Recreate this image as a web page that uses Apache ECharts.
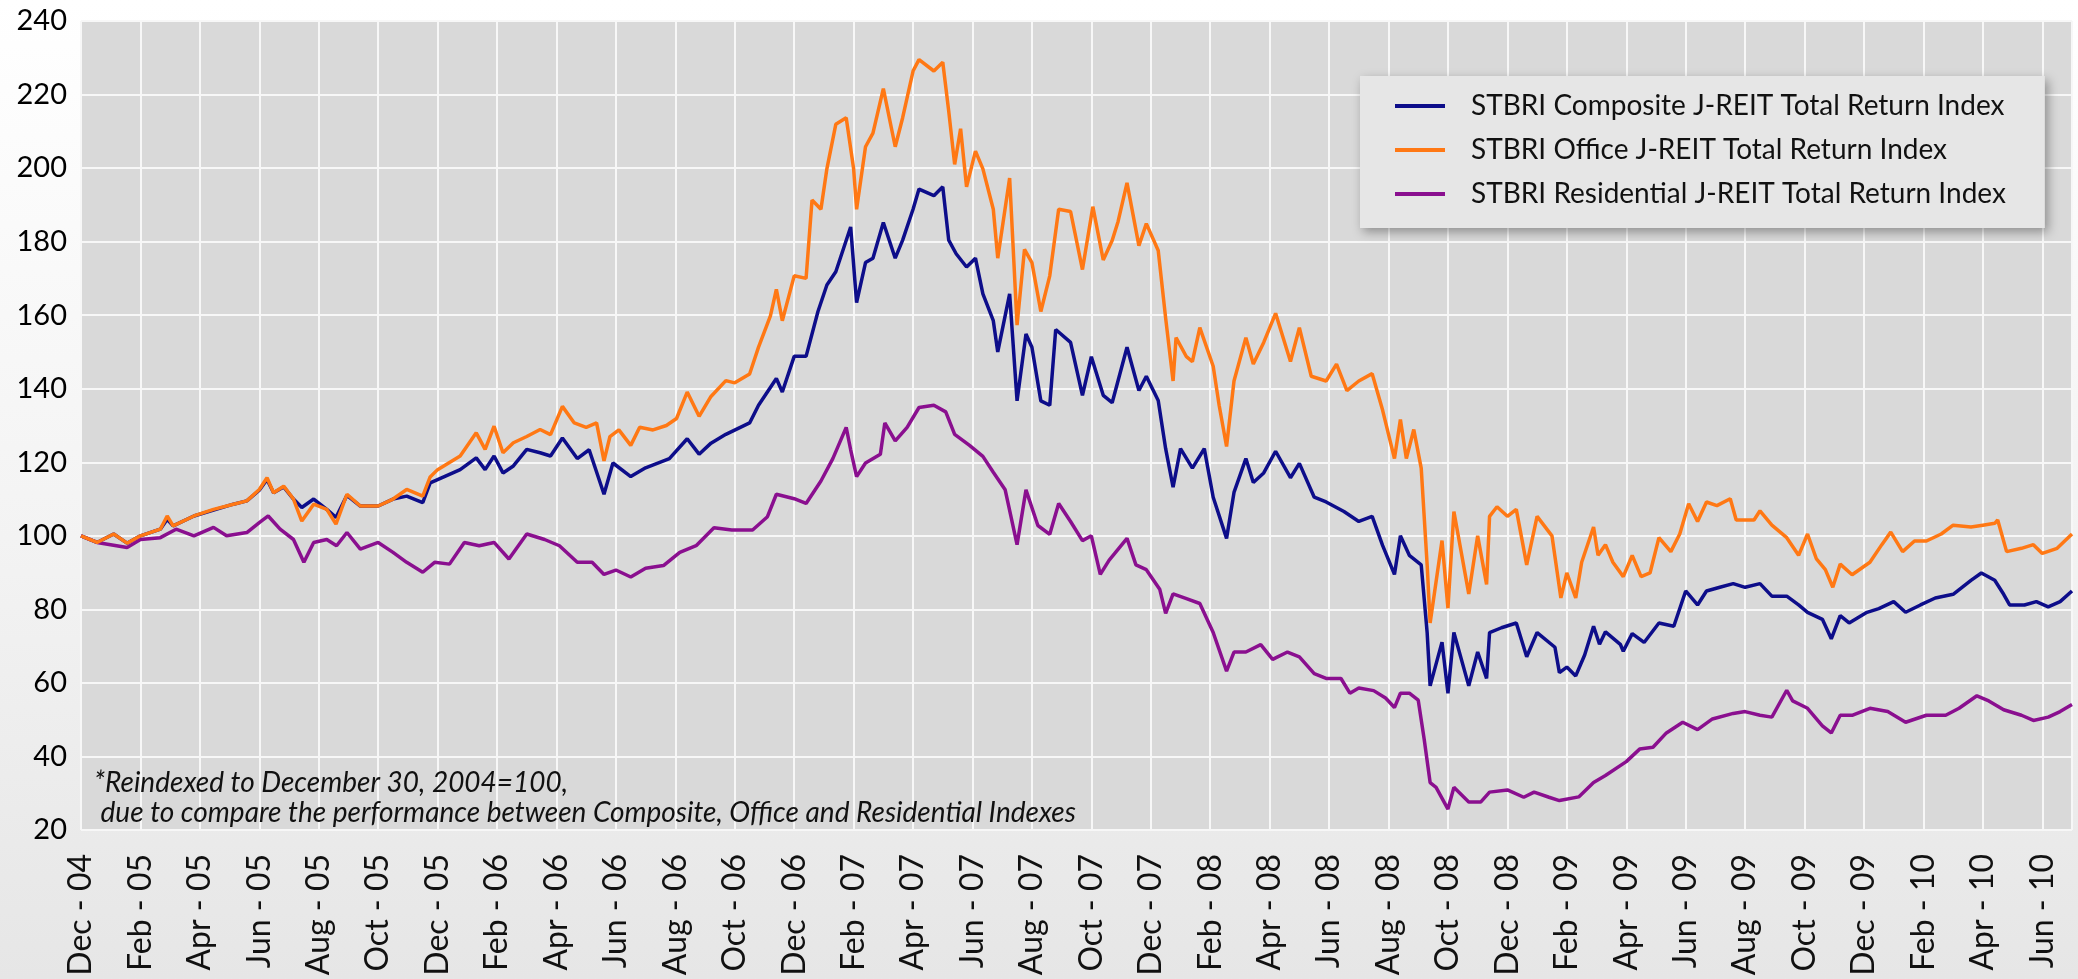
<!DOCTYPE html>
<html><head><meta charset="utf-8">
<script src="https://cdn.jsdelivr.net/npm/echarts/dist/echarts.min.js"></script>
<style>
html,body{margin:0;padding:0;width:2078px;height:979px;overflow:hidden;
background:linear-gradient(180deg,#ffffff 0%,#f3f3f3 55%,#e6e6e6 100%);}
#c{width:2078px;height:979px;}
</style></head><body><div id="c"></div>
<script>
// Each point: [months since 30 Dec 2004, index value]
const tickLabels = ['Dec - 04','Feb - 05','Apr - 05','Jun - 05','Aug - 05','Oct - 05','Dec - 05','Feb - 06','Apr - 06','Jun - 06','Aug - 06','Oct - 06','Dec - 06','Feb - 07','Apr - 07','Jun - 07','Aug - 07','Oct - 07','Dec - 07','Feb - 08','Apr - 08','Jun - 08','Aug - 08','Oct - 08','Dec - 08','Feb - 09','Apr - 09','Jun - 09','Aug - 09','Oct - 09','Dec - 09','Feb - 10','Apr - 10','Jun - 10'];

const composite = [[0,100],[0.54,98.2],[1.1,100.5],[1.55,98],[2,100],[2.67,101.8],[2.9,104.5],[3.1,102.7],[3.8,105.4],[4.46,107],[5.13,108.6],[5.58,109.5],[6,112.4],[6.26,115.3],[6.48,111.7],[6.82,113.3],[7.15,110],[7.43,107.7],[7.83,110],[8.27,107.2],[8.58,105],[8.95,111],[9.4,108.1],[10,108.1],[10.5,110],[10.96,110.8],[11.5,109],[11.75,114.4],[12,115.3],[12.76,118],[13.3,121.2],[13.6,118],[13.9,121.7],[14.2,117.1],[14.55,119],[15,123.5],[15.45,122.6],[15.8,121.7],[16.2,126.6],[16.7,121],[17.1,123.4],[17.6,111.3],[17.9,119.8],[18.5,116.1],[19,118.5],[19.8,121],[20.4,126.4],[20.8,122.2],[21.2,125.2],[21.7,127.6],[22.5,130.7],[22.8,135.5],[23.4,142.8],[23.6,139.1],[24,148.8],[24.4,148.8],[24.8,161],[25.1,168.2],[25.4,171.8],[25.9,184],[26.1,163.4],[26.4,174.3],[26.65,175.5],[27,185.2],[27.4,175.5],[27.65,180.4],[28,188.8],[28.2,194.3],[28.7,192.5],[29,194.9],[29.2,180.4],[29.45,176.7],[29.8,173.1],[30.1,175.5],[30.35,165.8],[30.7,158.5],[30.85,150],[31.25,165.8],[31.5,136.7],[31.8,154.9],[32,151.3],[32.3,136.7],[32.6,135.5],[32.8,156.1],[33.3,152.6],[33.7,138.2],[34,148.7],[34.4,138.2],[34.7,136.2],[35.2,151.3],[35.6,139.5],[35.85,143.4],[36.25,136.8],[36.5,123.7],[36.75,113.2],[37,123.7],[37.4,118.4],[37.8,123.7],[38.1,110.5],[38.55,99.3],[38.8,111.8],[39.2,121],[39.45,114.5],[39.8,117.1],[40.2,123],[40.7,115.8],[41,119.7],[41.5,110.5],[41.9,109.2],[42.5,106.6],[43,103.9],[43.45,105.3],[43.8,97.4],[44.2,89.5],[44.4,100],[44.7,94.7],[45.1,92.1],[45.3,73.7],[45.4,59.2],[45.8,71.1],[46,57.2],[46.2,73.7],[46.7,59.2],[47,68.4],[47.3,61.2],[47.4,73.7],[47.8,75],[48.3,76.3],[48.65,67.1],[49,73.7],[49.6,69.7],[49.75,62.8],[50,64.3],[50.3,61.9],[50.6,67.6],[50.9,75.4],[51.1,70.5],[51.3,73.9],[51.8,70.5],[51.9,68.6],[52.2,73.4],[52.6,71],[53.1,76.3],[53.6,75.4],[54,85],[54.4,81.2],[54.7,85],[55.15,86],[55.6,87],[56,86],[56.5,87],[56.9,83.6],[57.4,83.6],[57.8,81.2],[58.1,79.2],[58.6,77.3],[58.9,72],[59.2,78.3],[59.5,76.3],[60.1,79.2],[60.5,80.2],[61,82.1],[61.4,79.2],[61.9,81.2],[62.4,83.1],[63,84.1],[63.6,87.9],[63.95,89.9],[64.4,87.9],[64.7,84.1],[64.9,81.2],[65.4,81.2],[65.8,82.1],[66.2,80.7],[66.6,82.1],[67,85]];

const office = [[0,100],[0.54,98.2],[1.1,100.5],[1.55,98],[2,100],[2.67,101.8],[2.9,105.4],[3.1,102.7],[3.8,105.4],[4.46,107.2],[5.13,108.6],[5.58,109.5],[6,112.6],[6.26,115.8],[6.48,111.7],[6.82,113.5],[7.15,110],[7.43,104],[7.83,108.6],[8.27,107.2],[8.58,103.2],[8.95,111.3],[9.4,108.1],[10,108.1],[10.5,110],[10.96,112.6],[11.5,110.8],[11.75,116],[12,118],[12.76,121.7],[13.3,128],[13.6,123.5],[13.9,129.8],[14.2,122.6],[14.55,125.3],[15,127],[15.45,128.9],[15.8,127.5],[16.2,135.2],[16.6,130.7],[17,129.5],[17.35,130.7],[17.6,120.4],[17.8,127],[18.1,128.8],[18.5,124.6],[18.8,129.5],[19.25,128.8],[19.7,130],[20.04,131.9],[20.4,139.1],[20.8,132.5],[21.2,137.9],[21.7,142.2],[22,141.6],[22.5,144],[22.8,151.3],[23.2,159.8],[23.4,167],[23.6,158.5],[24,170.7],[24.4,170],[24.6,191.3],[24.9,188.8],[25.1,199.8],[25.4,211.9],[25.75,213.7],[26,199.8],[26.1,188.8],[26.4,205.8],[26.65,209.5],[27,221.6],[27.4,205.8],[27.65,213.7],[28,226.4],[28.2,229.5],[28.7,226.4],[29,228.8],[29.2,215.5],[29.4,201],[29.6,210.7],[29.8,194.9],[30.1,204.6],[30.35,199.8],[30.7,188.8],[30.85,175.5],[31.25,197.3],[31.5,157.3],[31.75,177.9],[32,174.3],[32.3,161],[32.6,170.7],[32.9,188.8],[33.3,188.2],[33.7,172.4],[34.05,189.5],[34.4,175],[34.7,180.3],[34.9,185.5],[35.2,196],[35.6,178.9],[35.85,184.9],[36.25,177.6],[36.5,159.2],[36.75,142.1],[36.85,153.9],[37.2,148.7],[37.4,147.4],[37.65,156.6],[38.1,146.1],[38.3,135.5],[38.55,124.3],[38.8,142.1],[39.2,153.9],[39.45,146.7],[39.8,152.6],[40.2,160.5],[40.7,147.4],[41,156.6],[41.4,143.4],[41.9,142.1],[42.25,146.7],[42.6,139.5],[43,142.1],[43.45,144.1],[43.8,134.2],[44.2,121],[44.4,131.6],[44.6,121],[44.85,128.9],[45.1,118.4],[45.3,92.1],[45.4,76.3],[45.8,98.7],[46,80.3],[46.2,106.6],[46.7,84.2],[47,100],[47.3,86.8],[47.4,105.3],[47.65,107.9],[48,105.3],[48.3,107.2],[48.65,92.1],[49,105.3],[49.5,100],[49.8,83.1],[50,89.9],[50.3,83.1],[50.5,92.8],[50.9,102.4],[51.05,94.7],[51.3,97.6],[51.55,92.8],[51.9,88.9],[52.2,94.7],[52.5,88.9],[52.8,89.9],[53.1,99.5],[53.5,95.7],[53.8,100.5],[54.1,108.7],[54.4,103.9],[54.7,109.2],[55.05,108.2],[55.5,110.1],[55.7,104.3],[56.3,104.3],[56.5,106.8],[56.9,102.9],[57.4,99.5],[57.8,94.7],[58.1,100.5],[58.4,93.7],[58.7,90.8],[58.95,86],[59.2,92.3],[59.6,89.4],[60.2,92.8],[60.6,97.6],[60.9,101],[61.3,95.7],[61.7,98.6],[62.1,98.6],[62.6,100.5],[63,102.9],[63.6,102.4],[64,102.9],[64.4,103.4],[64.5,104.3],[64.8,95.7],[65.3,96.6],[65.7,97.6],[66,95.2],[66.5,96.6],[67,100.5]];

const residential = [[0,100],[0.54,98.2],[1.55,96.8],[2,99],[2.67,99.5],[3.2,101.8],[3.8,100],[4.46,102.3],[4.9,100],[5.58,100.9],[6,103.6],[6.3,105.4],[6.7,101.8],[7.15,99],[7.5,92.8],[7.83,98.2],[8.27,99],[8.6,97.3],[8.95,100.9],[9.4,96.4],[10,98.2],[10.5,95.5],[10.96,92.8],[11.5,90.1],[11.9,92.8],[12.4,92.3],[12.9,98.2],[13.4,97.3],[13.9,98.2],[14.4,93.7],[15,100.5],[15.6,99],[16.1,97.3],[16.7,92.8],[17.2,92.8],[17.6,89.5],[18,90.7],[18.5,88.8],[19,91.2],[19.6,91.9],[20.15,95.5],[20.7,97.3],[21.3,102.2],[21.9,101.6],[22.6,101.6],[23.1,105.2],[23.4,111.3],[24,110.1],[24.4,108.8],[24.9,114.9],[25.3,121],[25.75,129.5],[25.9,123.4],[26.1,116.1],[26.4,119.8],[26.9,122.2],[27.05,130.7],[27.4,125.8],[27.8,129.5],[28.2,134.9],[28.7,135.5],[29.1,133.7],[29.4,127.6],[29.9,124.6],[30.35,121.6],[30.7,117.3],[31.1,112.5],[31.5,97.6],[31.8,112.5],[32.2,102.8],[32.6,100.4],[32.9,108.8],[33.3,103.9],[33.7,98.7],[34,100],[34.3,89.5],[34.6,93.4],[35.2,99.3],[35.5,92.1],[35.85,90.8],[36.3,85.5],[36.5,78.9],[36.75,84.2],[37.2,82.9],[37.65,81.6],[38.1,73.7],[38.55,63.2],[38.8,68.4],[39.2,68.4],[39.7,70.4],[40.1,66.4],[40.6,68.4],[41,67.1],[41.5,62.5],[41.9,61.2],[42.4,61.2],[42.7,57.2],[43,58.6],[43.5,57.9],[43.9,55.9],[44.2,53.3],[44.4,57.2],[44.7,57.2],[45,55.3],[45.2,44.7],[45.4,32.9],[45.6,31.6],[46,25.7],[46.2,31.6],[46.7,27.6],[47.1,27.6],[47.4,30.3],[48,30.9],[48.55,28.9],[48.9,30.3],[49.4,28.9],[49.75,28],[50.4,29],[50.9,32.9],[51.3,34.8],[52,38.6],[52.45,42],[52.9,42.5],[53.35,46.4],[53.9,49.3],[54.4,47.3],[54.9,50.2],[55.6,51.7],[56,52.2],[56.5,51.2],[56.9,50.7],[57.4,58],[57.6,55.1],[58.1,53.1],[58.6,48.3],[58.9,46.4],[59.2,51.2],[59.6,51.2],[60.2,53.1],[60.8,52.2],[61.4,49.3],[62.1,51.2],[62.75,51.2],[63.2,53.1],[63.8,56.5],[64.2,55.1],[64.7,52.7],[65.3,51.2],[65.7,49.8],[66.2,50.7],[66.6,52.2],[67,54.1]];

const seriesNames = ['STBRI Composite J-REIT Total Return Index','STBRI Office J-REIT Total Return Index','STBRI Residential J-REIT Total Return Index'];
const noteLines = ['*Reindexed to December 30, 2004=100,',' due to compare the performance between Composite, Office and Residential Indexes'];

const FONT = 'Lato, "Noto Sans", sans-serif';

const chart = echarts.init(document.getElementById('c'), null, {renderer: 'canvas'});
chart.setOption({
  animation: false,
  backgroundColor: 'transparent',
  color: ['#0d0d8a', '#ff7814', '#8a0f8f'],
  grid: {left: 81, right: 6, top: 21, bottom: 149, show: true, backgroundColor: '#d9d9d9', borderWidth: 0,
         containLabel: false, outerBoundsMode: 'none'},
  xAxis: {
    type: 'value', min: 0, max: 67, interval: 2,
    axisLine: {show: false}, axisTick: {show: false},
    splitLine: {show: true, lineStyle: {color: '#f7f7f7', width: 2}},
    axisLabel: {
      rotate: 90, margin: 24, fontSize: 32, color: '#111', fontFamily: FONT,
      showMaxLabel: false,
      formatter: v => { const k = Math.round(v / 2); return (Math.abs(v - 2 * k) < 1e-6 && tickLabels[k]) ? tickLabels[k] : ''; }
    }
  },
  yAxis: {
    type: 'value', min: 20, max: 240, interval: 20,
    axisLine: {show: false}, axisTick: {show: false},
    splitLine: {show: true, lineStyle: {color: '#f7f7f7', width: 2}},
    axisLabel: {margin: 14, fontSize: 29, color: '#000', fontFamily: FONT}
  },
  legend: {
    show: true, orient: 'vertical', left: 1360, top: 76,
    itemWidth: 50, itemHeight: 4, itemGap: 16, icon: 'rect',
    padding: [16, 39, 20, 35],
    backgroundColor: '#e6e6e6',
    shadowBlur: 10, shadowColor: 'rgba(0,0,0,0.35)', shadowOffsetX: 3, shadowOffsetY: 4,
    textStyle: {fontSize: 28, color: '#111', fontFamily: FONT, padding: [0, 0, 0, 21]},
    data: seriesNames
  },
  graphic: [
    {type: 'text', left: 94, top: 769, z: 10, style: {text: noteLines[0], font: 'italic 28px ' + FONT, fill: '#111'}},
    {type: 'text', left: 94, top: 799, z: 10, style: {text: noteLines[1], font: 'italic 28px ' + FONT, fill: '#111'}}
  ],
  series: [
    {name: seriesNames[0], type: 'line', data: composite, showSymbol: false, z: 3, lineStyle: {width: 3.5}},
    {name: seriesNames[1], type: 'line', data: office, showSymbol: false, z: 4, lineStyle: {width: 3.5}},
    {name: seriesNames[2], type: 'line', data: residential, showSymbol: false, z: 3, lineStyle: {width: 3.5}}
  ]
});
</script></body></html>
